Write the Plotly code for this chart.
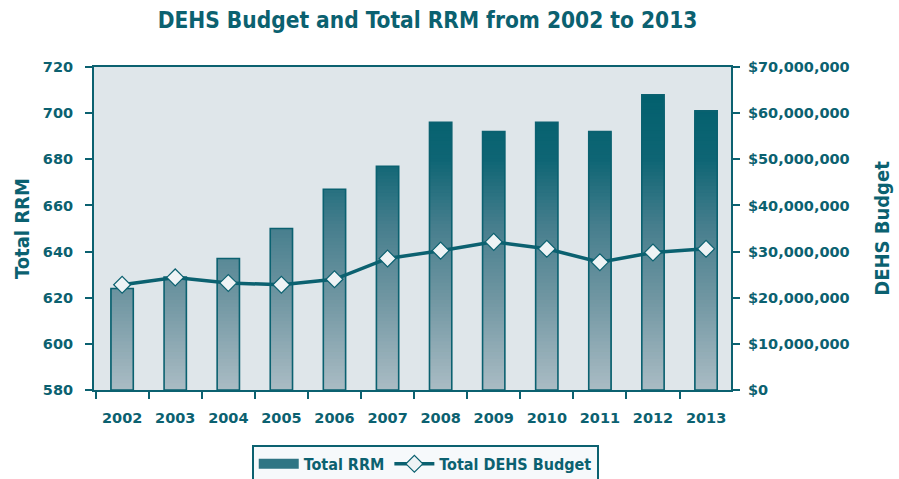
import numpy as np
import plotly.graph_objects as go

# Data
years = [str(y) for y in range(2002, 2014)]
total_rrm = [624, 629, 637, 650, 667, 677, 696, 692, 696, 692, 708, 701]
dehs_budget = [22.8e6, 24.4e6, 23.2e6, 22.8e6, 24.0e6, 28.5e6,
               30.2e6, 32.1e6, 30.6e6, 27.7e6, 29.8e6, 30.6e6]

TEAL = "#0b6170"
RRM_MIN, RRM_MAX = 580, 720
BAR_W = 0.42

# vertical colour ramp for the bars (keyed by RRM value)
ramp_stops = [580, 620, 650, 680, 712]
ramp_r = [170, 112, 72, 14, 0]
ramp_g = [188, 150, 127, 101, 95]
ramp_b = [196, 162, 142, 116, 109]


def ramp_color(v):
    r = np.interp(v, ramp_stops, ramp_r)
    g = np.interp(v, ramp_stops, ramp_g)
    b = np.interp(v, ramp_stops, ramp_b)
    return f"rgb({r:.0f},{g:.0f},{b:.0f})"


fig = go.Figure()

# gradient fill: bars from the axis floor up to each band's top edge,
# drawn from the highest band down so lower bands paint over the rest
rrm = np.array(total_rrm, dtype=float)
edges = np.arange(RRM_MIN, RRM_MAX + 0.001, 1.5)
for lo, hi in reversed(list(zip(edges[:-1], edges[1:]))):
    top = np.minimum(rrm, hi)
    if not np.any(top > lo):
        continue
    fig.add_trace(go.Bar(
        x=years, y=top - RRM_MIN, base=[RRM_MIN] * len(years), width=BAR_W,
        marker=dict(color=ramp_color((lo + hi) / 2), line=dict(width=0)),
        showlegend=False, hoverinfo="skip", yaxis="y"))

# bar outlines
fig.add_trace(go.Bar(
    x=years, y=rrm - RRM_MIN, base=[RRM_MIN] * len(years), width=BAR_W,
    marker=dict(color="rgba(0,0,0,0)", line=dict(color=TEAL, width=1.6)),
    showlegend=False, hoverinfo="skip", yaxis="y"))

# legend entry for the bars (flat swatch)
fig.add_trace(go.Scatter(
    x=[None], y=[None], name="Total RRM", mode="lines",
    line=dict(color="#2f7584", width=10), yaxis="y"))

# budget line
fig.add_trace(go.Scatter(
    x=years, y=dehs_budget, name="Total DEHS Budget", yaxis="y2",
    mode="lines+markers",
    line=dict(color=TEAL, width=3.5),
    marker=dict(symbol="diamond", size=13, color="#eef3f5",
                line=dict(color=TEAL, width=1.2))))

tick_font = dict(family="DejaVu Sans, sans-serif", size=14.5,
                 color=TEAL, weight="bold")
head_font = dict(family="DejaVu Sans Condensed, DejaVu Sans, sans-serif",
                 size=20, color=TEAL, weight="bold")

fig.update_layout(
    width=899, height=479,
    margin=dict(l=94, r=168, t=67, b=89, autoexpand=False),
    paper_bgcolor="white",
    plot_bgcolor="#dfe6ea",
    barmode="overlay",
    title=dict(text="DEHS Budget and Total RRM from 2002 to 2013",
               x=0.4755, xanchor="center", y=0.958, yanchor="middle",
               font=dict(family="DejaVu Sans Condensed, DejaVu Sans, sans-serif",
                         size=22.5, color=TEAL, weight="bold")),
    xaxis=dict(
        type="category", range=[-0.53, len(years) - 0.53], tickfont=tick_font,
        showline=True, linecolor=TEAL, linewidth=2, mirror=True,
        ticks="outside", tickson="boundaries", ticklen=7,
        tickcolor=TEAL, tickwidth=1.5, showgrid=False, zeroline=False,
        ticklabelstandoff=14,
    ),
    yaxis=dict(
        range=[RRM_MIN, RRM_MAX], dtick=20, tickfont=tick_font,
        showline=True, linecolor=TEAL, linewidth=2,
        ticks="outside", ticklen=7, tickcolor=TEAL, tickwidth=1.5,
        showgrid=False, zeroline=False, ticklabelstandoff=9,
        title=dict(text="Total RRM", font=head_font, standoff=8),
    ),
    yaxis2=dict(
        range=[0, 70e6], dtick=10e6, tickformat="$,.0f",
        tickfont=tick_font, overlaying="y", side="right",
        showline=True, linecolor=TEAL, linewidth=2,
        ticks="outside", ticklen=7, tickcolor=TEAL, tickwidth=1.5,
        showgrid=False, zeroline=False, ticklabelstandoff=5,
        title=dict(text="DEHS Budget", font=head_font, standoff=26),
    ),
    legend=dict(
        orientation="h", x=0.52, xanchor="center", y=-0.17, yanchor="top",
        bgcolor="#f6f9fb", bordercolor=TEAL, borderwidth=2,
        font=dict(family="DejaVu Sans Condensed, DejaVu Sans, sans-serif",
                  size=16, color=TEAL, weight="bold"),
        itemwidth=40,
    ),
)

fig.write_html("out.html")
